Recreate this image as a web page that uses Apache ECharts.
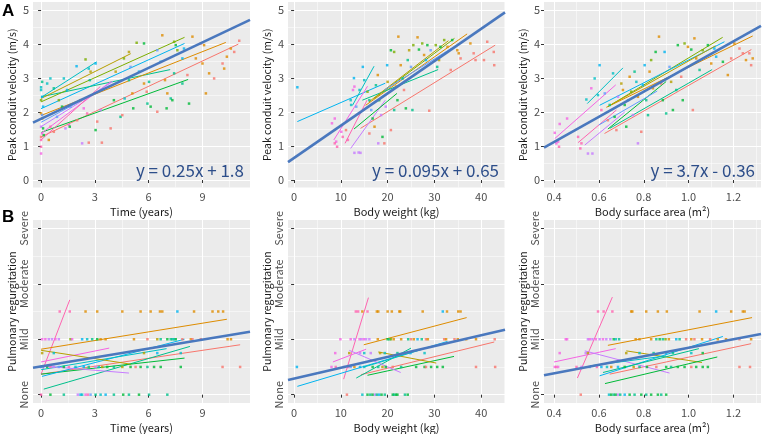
<!DOCTYPE html>
<html lang="en">
<head>
<meta charset="UTF-8">
<title>Conduit velocity / PR</title>
<script src="https://cdn.jsdelivr.net/npm/echarts@6/dist/echarts.min.js"></script>
<style>
  *{margin:0;padding:0;}
  #main{width:766px;height:434px;background:#fff;}
</style>
</head>
<body>
<div id="main"></div>
<script>
// ggplot hue palette, one colour per patient
var PALETTE = ['#F8766D','#DE8C00','#B79F00','#7CAE00','#00BA38','#00C08B','#00BFC4','#00B4F0','#619CFF','#C77CFF','#F564E3','#FF64B0'];

// tick labels
var timeTicks = [0, 3, 6, 9];
var timeMinor = [1.5, 4.5, 7.5, 10.5];
var weightTicks = [0, 10, 20, 30, 40];
var weightMinor = [5, 15, 25, 35, 45];
var bsaTicks = [0.4, 0.6, 0.8, 1.0, 1.2];
var bsaMinor = [0.5, 0.7, 0.9, 1.1, 1.3];
var velTicks = [0, 1, 2, 3, 4, 5];
var velMinor = [0.5, 1.5, 2.5, 3.5, 4.5];
var prTicks = [0, 1, 2, 3];
var prMinor = [0.5, 1.5, 2.5];
var prLevels = ['None', 'Mild', 'Moderate', 'Severe'];

// overall fits [slope, intercept]
var fitVelTime = [0.25, 1.8];
var fitVelWeight = [0.095, 0.65];
var fitVelBsa = [3.7, -0.36];
var fitPrTime = [0.0535, 0.51];
var fitPrWeight = [0.0195, 0.29];
var fitPrBsa = [0.77, 0.077];
var equations = ['y = 0.25x + 1.8', 'y = 0.095x + 0.65', 'y = 3.7x - 0.36'];

// per patient fitted segments [x0, y0, x1, y1, colour]
var velTimeSegs = [
  [0,2.43,3.1,3.48,6],[0,2.1,8.0,4.02,7],[0,2.45,7.2,3.25,5],[0,2.3,8.0,4.2,3],
  [0,2.4,5.0,3.72,2],[0,1.9,10.3,4.05,1],[0,1.27,11.0,4.0,0],[0,1.4,8.2,2.96,4],
  [0,1.37,3.9,2.9,10],[0,1.18,3.3,2.75,11],[0,1.57,4.0,2.9,9],[0,1.7,3.5,2.7,8]
];
var velWeightSegs = [
  [0.7,1.72,19.5,2.85,7],[12.5,2.2,17.1,3.35,6],[14.2,1.52,43,3.97,0],[15.3,2.2,37,4.3,1],
  [17.1,2.4,34.3,4.17,3],[14.6,2.35,30.8,3.25,5],[16,2.3,33,4.1,2],[19.3,2.65,33.6,3.87,8],
  [8.5,1.18,15.7,2.76,10],[10.9,1.08,15.6,2.35,11],[12.1,0.93,19.5,2.35,9],[12.8,1.5,22,2.55,4]
];
var velBsaSegs = [
  [0.548,2.25,0.707,3.3,6],[0.403,1.22,0.675,2.8,10],[0.507,1.1,0.678,2.06,11],[0.537,1.03,0.715,2.0,9],
  [0.625,1.37,1.28,3.84,0],[0.633,2.14,1.286,4.24,1],[0.64,2.16,1.152,4.2,3],[0.603,2.2,1.16,4.07,7],
  [0.648,1.52,1.105,3.25,5],[0.64,1.5,0.9,2.9,4],[0.65,2.2,1.12,3.95,2],[0.6,1.62,0.86,2.62,8]
];
var prTimeSegs = [
  [0,0.37,1.6,1.71,11],[0,0.82,10.36,1.36,1],[0,0.37,11.1,0.9,0],[0.15,0.1,8.3,0.87,5],
  [0,0.37,8.0,0.66,4],[0.05,0.33,8,1.0,7],[0,0.45,7,0.83,6],[0,0.59,3.8,0.84,10],
  [0,0.8,5.0,0.55,2],[0,0.52,4.9,0.39,9]
];
var prWeightSegs = [
  [10.6,0.28,15.9,1.75,11],[14.9,0.9,36.9,1.39,1],[14.3,0.36,42.8,0.95,0],[0.7,0.15,32.8,0.96,7],
  [15.7,0.35,34.2,0.69,4],[13.3,0.3,25,0.84,5],[8.3,0.59,15.4,0.82,10],[11.8,0.8,22.8,0.4,9],
  [18,0.77,30.4,0.57,2],[15,0.5,27.5,0.82,6]
];
var prBsaSegs = [
  [0.504,0.3,0.66,1.76,11],[0.64,0.89,1.283,1.39,1],[0.648,0.37,1.279,0.92,0],[0.4,0.59,0.675,0.83,10],
  [0.537,0.79,0.915,0.39,9],[0.722,0.79,1.06,0.58,2],[0.627,0.2,1.128,0.68,4],[0.603,0.34,1.153,1.05,7],
  [0.618,0.4,1.046,0.83,5],[0.56,0.52,0.9,0.7,6]
];

// observations [x, y, colour]
var velTimePts = [
  [0,2.65,6],[0.06,2.89,5],[0,2.73,6],[0.06,2.45,7],[0,2.35,3],[0.11,2.16,7],[0,1.96,1],[0.06,1.81,1],
  [0,1.57,9],[0.06,1.37,10],[0,1.27,0],[0,1.18,11],[0,0.98,11],[0,0.78,10],[0.11,1.52,4],[0.06,1.91,8],
  [0.34,2.84,6],[0.52,2.99,6],[0.71,2.7,5],[1.27,2.99,6],[1.45,2.65,7],[0.99,2.35,3],[1.17,2.16,4],[0.89,1.86,8],
  [0.52,1.57,11],[0.71,1.42,0],[1.36,1.52,9],[1.55,1.62,10],[1.64,2.16,8],[0.43,1.18,1],[0.15,1.32,4],
  [1.98,3.35,7],[2.48,3.55,3],[2.66,3.28,6],[2.72,2.94,5],[2.76,3.19,2],[3.04,3.43,7],[2.2,2.35,1],[2.38,2.11,10],
  [2.57,1.96,11],[2.01,1.76,0],[1.6,1.57,4],[2.29,1.08,9],[2.66,1.1,0],[3.04,1.47,4],[3.13,1.72,0],[3.32,2.06,9],
  [3.39,1.1,0],[3.88,1.52,0],[4.06,2.35,4],[4.16,3.19,2],[4.43,1.86,5],[4.62,3.58,3],[4.9,3.77,2],[4.99,3.33,8],
  [4.9,2.94,5],[5.09,2.55,1],[5.14,2.11,4],[4.66,2.4,6],[4.53,1.91,0],
  [5.33,4.04,3],[5.74,4.02,4],[5.46,3.19,7],[5.74,2.84,1],[5.89,2.6,0],[5.93,2.25,5],[6.02,2.89,5],[6.11,2.16,4],
  [6.48,2.01,0],[6.67,3.48,7],[6.76,4.26,1],[6.91,2.94,1],[7.0,2.11,4],[7.04,2.55,1],[6.48,3.82,8],
  [7.23,2.4,5],[7.32,2.35,4],[7.42,3.14,5],[7.51,3.97,4],[7.6,3.82,3],[7.88,3.58,7],[7.97,3.87,7],[8.16,3.09,0],
  [8.25,2.25,4],[7.42,4.07,3],[7.88,2.84,5],
  [8.44,4.22,1],[8.63,3.58,1],[8.91,4.02,0],[9.0,3.43,1],[9.09,3.97,1],[9.19,2.55,1],[9.37,3.14,1],[9.65,2.99,0],
  [10.12,3.43,0],[10.21,3.28,1],[10.58,3.87,1],[10.77,3.77,0],[11.05,4.1,0],[10.36,3.63,1]
];
var velWeightPts = [
  [0.7,2.73,7],[8.1,1.67,10],[8.7,1.81,10],[9.0,1.13,10],[8.7,1.08,11],[9.2,0.98,11],[10.1,1.42,10],[10.4,1.27,11],
  [11.1,1.47,0],[11.5,1.18,11],[12.1,2.35,6],[12.2,2.21,6],[12.6,2.65,10],[12.8,3.0,7],[12.9,2.75,10],[13.3,2.16,8],
  [14.0,2.65,6],[12.9,0.8,9],[13.8,0.81,9],[14.2,0.8,9],[14.7,3.33,7],[15.0,2.94,6],[15.7,2.6,3],[16.1,2.35,5],
  [16.5,2.06,8],[16.8,1.81,4],[16.1,1.37,0],[17.2,1.57,1],[17.5,2.79,5],[17.9,3.09,1],[18.2,2.35,4],[18.6,1.91,9],
  [18.9,1.27,4],[19.3,1.08,0],[19.6,2.16,9],[19.9,3.38,7],[20.0,2.89,2],[18.0,1.08,9],
  [20.7,3.82,4],[21.4,3.77,3],[21.8,2.75,1],[22.1,2.35,4],[22.3,4.22,1],[22.8,3.38,1],[23.2,2.99,5],[23.5,2.65,0],
  [23.9,2.11,4],[24.3,3.53,5],[24.6,3.82,2],[25.0,3.33,8],[25.3,2.06,5],[25.5,3.97,3],[20.7,1.47,0],[21.4,2.06,5],
  [26.4,4.2,1],[26.7,3.84,4],[27.4,4.02,3],[27.8,3.68,1],[28.2,3.53,7],[28.5,3.97,4],[28.9,2.04,0],[29.2,3.82,8],
  [30.3,3.97,3],[30.6,3.33,5],[31.0,3.53,2],[31.3,3.92,4],
  [32.1,4.12,3],[32.8,3.92,1],[33.5,3.24,0],[33.8,4.12,4],[34.9,3.82,1],[35.2,3.73,1],[35.6,3.58,0],[37.7,4.02,1],
  [38.4,3.73,0],[38.8,3.53,0],[40.6,3.53,0],[41.3,4.07,0],[42.7,3.77,0],[42.8,3.38,0]
];
var velBsaPts = [
  [0.403,1.39,10],[0.41,1.08,10],[0.418,1.13,10],[0.425,1.65,10],[0.458,1.81,10],[0.422,0.98,11],[0.507,1.27,11],
  [0.522,1.08,11],[0.517,0.93,11],[0.544,2.37,6],[0.551,0.78,9],[0.571,0.78,9],[0.581,2.99,6],[0.566,2.7,10],
  [0.603,3.38,7],[0.596,2.5,6],[0.611,2.06,11],[0.626,2.55,8],[0.64,1.76,0],[0.648,2.21,5],[0.663,3.14,6],
  [0.67,1.86,4],[0.678,1.47,0],[0.685,2.45,9],[0.7,2.84,2],[0.707,2.65,1],[0.715,2.21,4],[0.722,1.57,4],
  [0.73,2.35,8],[0.737,3.04,1],[0.744,2.6,3],[0.752,1.91,9],[0.759,3.19,5],[0.767,2.89,6],[0.774,2.45,1],
  [0.774,1.08,9],[0.789,1.42,0],[0.796,2.79,7],[0.804,3.38,7],[0.811,2.35,5],[0.819,1.91,5],[0.826,3.19,1],
  [0.833,3.53,3],[0.841,2.7,1],[0.853,3.77,4],[0.868,4.22,1],[0.878,2.84,0],[0.885,2.35,4],[0.893,3.77,7],
  [0.9,1.96,5],[0.915,3.33,8],[0.922,2.89,2],[0.93,2.06,4],[0.945,2.65,5],[0.952,3.97,4],[0.967,3.04,0],
  [0.974,2.35,4],[0.982,4.02,3],[0.997,3.92,1],[1.012,3.84,4],[1.019,2.06,0],[1.026,4.17,1],[1.034,3.58,1],
  [1.049,3.24,5],[1.063,3.82,3],[1.086,3.97,4],[1.101,3.43,1],[1.115,3.87,7],[1.123,3.63,7],[1.153,3.48,4],
  [1.175,3.09,1],[1.19,3.58,0],[1.204,4.02,1],[1.227,3.87,0],[1.242,3.73,0],[1.256,3.53,1],[1.271,3.73,0],
  [1.279,3.38,0],[1.286,3.58,1]
];
var prTimePts = [
  [1.04,1.5,11],[1.6,1.5,11],[2.48,1.5,1],[3.13,1.5,1],[4.53,1.5,1],[5.55,1.5,1],[6.11,1.5,1],[6.63,1.5,1],
  [6.76,1.5,1],[7.6,1.5,7],[8.53,1.5,1],[9.56,1.5,1],[9.88,1.5,1],[10.15,1.5,1],
  [0.06,1,10],[0.24,1,10],[0.43,1,9],[0.61,1,9],[0.8,1,10],[0.99,1,9],[1.64,1,3],[1.73,1,10],[2.29,1,7],
  [2.57,1,6],[2.85,1,5],[3.13,1,4],[3.32,1,1],[3.6,1,1],[5.18,1,1],[5.93,1,0],[6.48,1,2],[6.67,1,5],[7.04,1,4],
  [7.23,1,5],[7.33,1,5],[7.42,1,6],[7.51,1,4],[7.88,1,0],[8.35,1,1],[8.44,1,0],[8.91,1,0],[10.4,1,1],[10.59,1,1],
  [0.06,0.75,2],[0.71,0.75,6],[5.74,0.75,2],[6.48,0.75,7],[7.79,0.75,6],
  [0,0.5,7],[0.11,0.5,8],[0.34,0.5,4],[0.52,0.5,11],[0.71,0.5,9],[0.99,0.5,8],[1.27,0.5,4],[1.55,0.5,11],
  [1.92,0.5,6],[2.38,0.5,7],[2.66,0.5,5],[3.04,0.5,9],[3.22,0.5,6],[3.41,0.5,2],[3.69,0.5,4],[4.06,0.5,5],
  [4.53,0.5,2],[4.99,0.5,4],[5.27,0.5,0],[5.55,0.5,4],[5.93,0.5,5],[6.3,0.5,4],[6.67,0.5,4],[7.79,0.5,4],
  [10.12,0.5,0],[11.1,0.5,0],
  [0,0,11],[0.52,0,4],[1.27,0,5],[2.05,0,9],[2.2,0,7],[2.29,0,6],[2.48,0,10],[2.61,0,11],[2.76,0,8],[3.04,0,5],
  [3.32,0,6],[3.6,0,7],[4.06,0,5],[4.58,0,4],[4.9,0,5],[5.46,0,4],[6.02,0,5],[7.04,0,5]
];
var prWeightPts = [
  [13.2,1.5,11],[13.7,1.5,11],[14.6,1.5,1],[15.7,1.5,11],[17.7,1.5,1],[18,1.5,1],[20,1.5,1],[20.9,1.5,1],
  [22.5,1.5,1],[22.7,1.5,1],[27.5,1.5,1],[31.8,1.5,7],[32.7,1.5,1],[35.1,1.5,1],[35.6,1.5,1],
  [9.9,1,10],[12.1,1,10],[12.9,1,9],[14,1,10],[14.4,1,9],[14.9,1,10],[15.4,1,9],[16.1,1,9],[17.9,1,1],[20,1,4],
  [20.4,1,5],[20.7,1,3],[21.3,1,1],[22.9,1,1],[24.4,1,5],[25,1,0],[25.6,1,1],[26.4,1,7],[27.3,1,5],[28.2,1,0],
  [28.6,1,1],[32.1,1,0],[32.5,1,1],[34.3,1,0],[35,1,1],[36.8,1,1],[38.9,1,1],[42.9,1,0],
  [8.8,0.75,10],[11.8,0.75,2],[14.1,0.75,9],[15,0.75,6],[16.4,0.75,9],[18.4,0.75,2],[19.4,0.75,6],[22.1,0.75,5],
  [24.9,0.75,7],[27.9,0.75,6],
  [0.6,0.5,7],[8,0.5,10],[8.9,0.5,11],[10.7,0.5,9],[11.6,0.5,11],[12.1,0.5,8],[12.9,0.5,1],[14.1,0.5,7],
  [15,0.5,6],[16.8,0.5,4],[18,0.5,5],[18.9,0.5,2],[19.6,0.5,4],[21.1,0.5,0],[22.9,0.5,5],[26.1,0.5,4],
  [27.9,0.5,4],[28.2,0.5,0],[29.3,0.5,4],[30.6,0.5,4],[31.8,0.5,4],[38.9,0.5,0],[43,0.5,0],
  [11.3,0,0],[14.6,0,6],[15.7,0,4],[16.3,0,5],[16.8,0,4],[17.3,0,9],[17.7,0,5],[18.2,0,7],[18.7,0,4],[19.4,0,5],
  [21.1,0,4],[21.4,0,5],[21.8,0,4],[22.1,0,4],[23.7,0,5],[24.3,0,4]
];
var prBsaPts = [
  [0.596,1.5,11],[0.621,1.5,11],[0.66,1.5,11],[0.744,1.5,1],[0.749,1.5,1],[0.811,1.5,1],[0.863,1.5,1],
  [0.903,1.5,1],[1.049,1.5,1],[1.123,1.5,7],[1.19,1.5,1],[1.242,1.5,1],[1.25,1.5,1],
  [0.452,1,10],[0.458,1,10],[0.551,1,9],[0.559,1,10],[0.571,1,9],[0.586,1,10],[0.603,1,9],[0.618,1,10],
  [0.633,1,9],[0.651,1,9],[0.666,1,4],[0.675,1,6],[0.69,1,5],[0.764,1,1],[0.781,1,1],[0.833,1,1],[0.856,1,5],
  [0.871,1,4],[0.885,1,5],[0.897,1,3],[0.912,1,1],[0.945,1,7],[0.96,1,5],[0.989,1,0],[1.012,1,1],[1.026,1,0],
  [1.06,1,1],[1.096,1,0],[1.13,1,1],[1.167,1,1],[1.227,1,0],[1.279,1,1],
  [0.425,0.75,10],[0.541,0.75,9],[0.551,0.75,2],[0.722,0.75,2],[0.781,0.75,6],[0.844,0.75,5],[0.9,0.75,7],
  [0.93,0.75,5],[1.012,0.75,6],[1.063,0.75,4],
  [0.403,0.5,10],[0.41,0.5,11],[0.418,0.5,10],[0.5,0.5,11],[0.522,0.5,9],[0.559,0.5,8],[0.591,0.5,11],
  [0.611,0.5,7],[0.636,0.5,6],[0.655,0.5,1],[0.685,0.5,7],[0.715,0.5,4],[0.755,0.5,2],[0.781,0.5,5],
  [0.814,0.5,4],[0.856,0.5,0],[0.9,0.5,4],[0.922,0.5,5],[0.952,0.5,4],[0.982,0.5,4],[1.012,0.5,0],
  [1.034,0.5,4],[1.063,0.5,4],[1.086,0.5,4],[1.227,0.5,0],[1.274,0.5,0],
  [0.519,0,0],[0.645,0,6],[0.655,0,4],[0.666,0,5],[0.675,0,4],[0.685,0,9],[0.695,0,5],[0.715,0,7],
  [0.737,0,4],[0.759,0,5],[0.789,0,4],[0.811,0,5],[0.833,0,4],[0.863,0,4],[0.878,0,5],[0.9,0,4]
];

var FONT = '"Noto Sans CJK JP", "Noto Sans", sans-serif';
var lefts = [33, 288, 544];
var tops = [2, 220];
var W = 217, H = [185.5, 186];

var xSpecs = [
  {range: [-0.45, 11.65], ticks: timeTicks, minor: timeMinor, name: 'Time (years)', fmt: function (v) { return String(v); }},
  {range: [-1.3, 45.1], ticks: weightTicks, minor: weightMinor, name: 'Body weight (kg)', fmt: function (v) { return String(v); }},
  {range: [0.355, 1.323], ticks: bsaTicks, minor: bsaMinor, name: 'Body surface area (m\u00B2)', fmt: function (v) { return v.toFixed(1); }}
];
var ySpecs = [
  {range: [-0.22, 5.24], ticks: velTicks, minor: velMinor, name: 'Peak conduit velocity (m/s)', fmt: function (v) { return String(v); }, rotate: 0, gap: 16},
  {range: [-0.15, 3.15], ticks: prTicks, minor: prMinor, name: 'Pulmonary regurgitation', fmt: function (v) { return prLevels[Math.round(v)]; }, rotate: 90, gap: 16}
];

var panels = [
  {row: 0, col: 0, pts: velTimePts, segs: velTimeSegs, fit: fitVelTime},
  {row: 0, col: 1, pts: velWeightPts, segs: velWeightSegs, fit: fitVelWeight},
  {row: 0, col: 2, pts: velBsaPts, segs: velBsaSegs, fit: fitVelBsa},
  {row: 1, col: 0, pts: prTimePts, segs: prTimeSegs, fit: fitPrTime},
  {row: 1, col: 1, pts: prWeightPts, segs: prWeightSegs, fit: fitPrWeight},
  {row: 1, col: 2, pts: prBsaPts, segs: prBsaSegs, fit: fitPrBsa}
];

var grids = [], xAxes = [], yAxes = [], segSeries = [], ptSeries = [], fitSeries = [], graphics = [];

panels.forEach(function (p, i) {
  var xs = xSpecs[p.col], ys = ySpecs[p.row];
  grids.push({left: lefts[p.col], top: tops[p.row], width: W, height: H[p.row],
    show: true, backgroundColor: '#EBEBEB', borderWidth: 0});
  // major axis
  xAxes.push({type: 'value', gridIndex: i, min: xs.range[0], max: xs.range[1],
    name: xs.name, nameLocation: 'middle', nameGap: 19,
    nameTextStyle: {fontFamily: FONT, fontSize: 11, color: '#1a1a1a'},
    axisLine: {show: false},
    axisTick: {show: true, customValues: xs.ticks, length: 3, lineStyle: {color: '#333'}},
    axisLabel: {customValues: xs.ticks, formatter: xs.fmt, color: '#4d4d4d', fontFamily: FONT, fontSize: 11, margin: 4},
    splitLine: {show: true, lineStyle: {color: '#fff', width: 1}}});
  // minor grid axis
  xAxes.push({type: 'value', gridIndex: i, min: xs.range[0], max: xs.range[1],
    axisLine: {show: false}, axisTick: {show: false, customValues: xs.minor},
    axisLabel: {show: false, customValues: xs.minor},
    splitLine: {show: true, lineStyle: {color: '#fff', width: 0.5}}});
  yAxes.push({type: 'value', gridIndex: i, min: ys.range[0], max: ys.range[1],
    name: ys.name, nameLocation: 'middle', nameGap: ys.gap,
    nameTextStyle: {fontFamily: FONT, fontSize: 10.5, color: '#1a1a1a'},
    axisLine: {show: false},
    axisTick: {show: true, customValues: ys.ticks, length: 3, lineStyle: {color: '#333'}},
    axisLabel: {customValues: ys.ticks, formatter: ys.fmt, rotate: ys.rotate, color: '#4d4d4d', fontFamily: FONT, fontSize: 11, margin: 4},
    splitLine: {show: true, lineStyle: {color: '#fff', width: 1}}});
  yAxes.push({type: 'value', gridIndex: i, min: ys.range[0], max: ys.range[1],
    axisLine: {show: false}, axisTick: {show: false, customValues: ys.minor},
    axisLabel: {show: false, customValues: ys.minor},
    splitLine: {show: true, lineStyle: {color: '#fff', width: 0.5}}});

  p.segs.forEach(function (s) {
    segSeries.push({type: 'line', xAxisIndex: 2 * i, yAxisIndex: 2 * i, silent: true,
      data: [[s[0], s[1]], [s[2], s[3]]], showSymbol: false, symbol: 'none',
      lineStyle: {color: PALETTE[s[4]], width: 1}, z: 2});
  });
  ptSeries.push({type: 'scatter', xAxisIndex: 2 * i, yAxisIndex: 2 * i, silent: true,
    data: p.pts, symbol: 'rect', symbolSize: 2.5,
    itemStyle: {color: function (d) { return PALETTE[d.value[2]]; }}, z: 3});
  var x0 = xs.range[0], x1 = xs.range[1];
  fitSeries.push({type: 'line', xAxisIndex: 2 * i, yAxisIndex: 2 * i, silent: true,
    data: [[x0, p.fit[0] * x0 + p.fit[1]], [x1, p.fit[0] * x1 + p.fit[1]]],
    showSymbol: false, symbol: 'none', lineStyle: {color: '#4A78BE', width: 2.6}, z: 4});

  if (p.row === 0) {
    graphics.push({type: 'text', x: lefts[p.col] + W - 6, y: tops[0] + H[0] - 17, z: 10,
      style: {text: equations[p.col], fill: '#2D4E8A', font: '17px ' + FONT, textAlign: 'right', textVerticalAlign: 'middle'}});
  }
});

graphics.push({type: 'text', x: 2, y: 11, style: {text: 'A', fill: '#000', font: 'bold 17px "Liberation Sans", Arial, sans-serif', textVerticalAlign: 'middle'}});
graphics.push({type: 'text', x: 2, y: 217, style: {text: 'B', fill: '#000', font: 'bold 17px "Liberation Sans", Arial, sans-serif', textVerticalAlign: 'middle'}});

var chart = echarts.init(document.getElementById('main'), null, {renderer: 'canvas'});
chart.setOption({
  animation: false,
  grid: grids,
  xAxis: xAxes,
  yAxis: yAxes,
  series: segSeries.concat(ptSeries, fitSeries),
  graphic: graphics
});
</script>
</body>
</html>
